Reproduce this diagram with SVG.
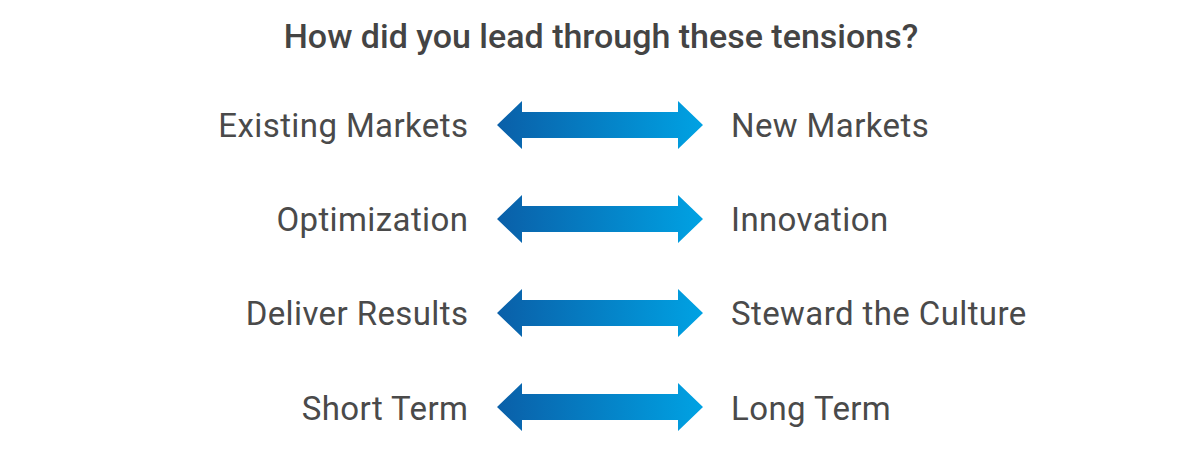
<svg xmlns="http://www.w3.org/2000/svg" width="1200" height="453" viewBox="0 0 1200 453">
<defs>
<linearGradient id="g" x1="0" y1="0" x2="1" y2="0">
<stop offset="0" stop-color="#0a5fa8"/>
<stop offset="1" stop-color="#00a2e3"/>
</linearGradient>
<path id="arr" d="M497,0 L522,-24 L522,-13 L678,-13 L678,-24 L703,0 L678,24 L678,13 L522,13 L522,24 Z"/>
</defs>
<style>
.t{font-family:Roboto,"Liberation Sans",sans-serif;fill:#444;}
.h{font-size:34px;font-weight:500;}
.l{font-size:33px;letter-spacing:0.4px;text-anchor:end;fill:#4a4a4a;}
.r{font-size:33px;letter-spacing:0.4px;fill:#4a4a4a;}
.a{fill:url(#g);}
</style>
<rect width="1200" height="453" fill="#fff"/>
<text class="t h" x="601" y="47.5" text-anchor="middle">How did you lead through these tensions?</text>
<g id="connectors">
<use href="#arr" class="a" y="125"/>
<use href="#arr" class="a" y="219"/>
<use href="#arr" class="a" y="313"/>
<use href="#arr" class="a" y="407"/>
</g>
<g id="row1"><text class="t l" x="468.4" y="137">Existing Markets</text><text class="t r" x="731" y="137">New Markets</text></g>
<g id="row2"><text class="t l" x="468.4" y="231">Optimization</text><text class="t r" x="731" y="231">Innovation</text></g>
<g id="row3"><text class="t l" x="468.4" y="325">Deliver Results</text><text class="t r" x="731" y="325">Steward the Culture</text></g>
<g id="row4"><text class="t l" x="468.4" y="419.5">Short Term</text><text class="t r" x="731" y="419.5">Long Term</text></g>
</svg>
